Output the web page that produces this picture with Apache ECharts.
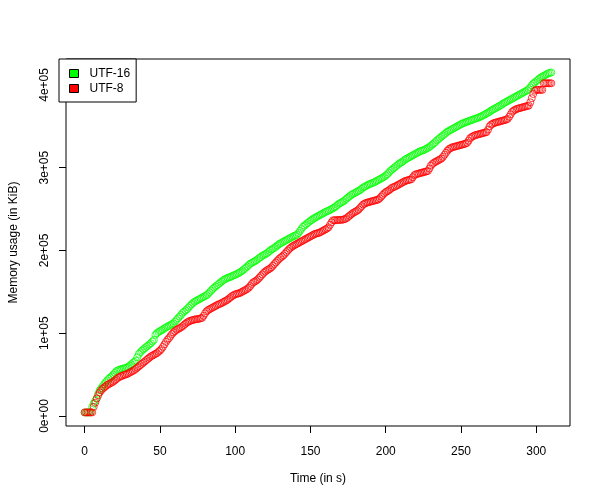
<!DOCTYPE html>
<html>
<head>
<meta charset="utf-8">
<title>Memory usage</title>
<script src="https://cdn.jsdelivr.net/npm/echarts@6/dist/echarts.min.js"></script>
<style>
    html, body { margin: 0; padding: 0; background: #fff; }
    #chart { width: 600px; height: 500px; }
</style>
</head>
<body>
<div id="chart"></div>
<script>
// memory in KiB, one reading per second (t = 0 .. 310)
var utf16 = [
    4300, 4300, 4300, 4400, 4500, 11000, 15000, 18500, 21500, 27000,
    31000, 33500, 36000, 38500, 41000, 43000, 45000, 46500, 48000, 50000,
    52000, 54000, 55000, 56000, 56500, 57000, 57500, 58000, 58500, 59500,
    61000, 62500, 64000, 65500, 67000, 71000, 75000, 77000, 79000, 80500,
    82000, 83500, 85000, 86500, 88000, 90000, 92000, 98000, 100000, 101500,
    102500, 103500, 104500, 106000, 107000, 108000, 109000, 110000, 111000, 112000,
    114000, 116000, 118000, 120000, 122000, 124500, 126000, 127500, 129000, 131000,
    133000, 135000, 136500, 138000, 139000, 140000, 141000, 142000, 143000, 144000,
    145000, 146000, 147500, 149500, 151500, 153500, 155000, 156500, 158000, 159500,
    161000, 162500, 164000, 165000, 166000, 167000, 167500, 168000, 169000, 170000,
    170500, 171500, 172500, 173500, 174500, 176000, 177500, 179000, 180500, 182500,
    184000, 185000, 186000, 187000, 188000, 189500, 191000, 192000, 193500, 194500,
    195500, 196500, 198000, 199500, 201000, 202000, 203000, 204500, 206000, 207500,
    208500, 209500, 210500, 211500, 212500, 213500, 214500, 215500, 216500, 217500,
    218000, 219000, 221000, 223500, 226000, 228500, 230000, 231500, 233000, 234500,
    236000, 237000, 238500, 239500, 240500, 241500, 242500, 243500, 244500, 245500,
    246500, 247500, 248000, 249000, 250000, 251000, 252000, 253500, 255000, 256500,
    257500, 258500, 259500, 261000, 262500, 264000, 265500, 267000, 268000, 269000,
    270000, 271000, 272000, 273000, 274500, 276000, 277000, 278000, 279000, 280000,
    280500, 281500, 282000, 283000, 284000, 285000, 286000, 287000, 288000, 289000,
    290500, 292000, 294000, 296000, 297500, 299000, 300500, 302000, 303500, 305000,
    306000, 307000, 308500, 310000, 311000, 312000, 313000, 314000, 315000, 316000,
    317000, 318000, 319000, 320000, 320500, 321000, 322000, 323000, 324000, 325000,
    326500, 328000, 329500, 331000, 333000, 334500, 336000, 337500, 339000, 340500,
    342000, 343500, 344500, 345500, 346500, 347500, 348500, 349500, 350500, 351500,
    352500, 353500, 354000, 355000, 355500, 356000, 357000, 357500, 358000, 359000,
    359500, 360000, 361000, 361500, 362500, 363500, 364500, 365500, 366500, 367500,
    369000, 370000, 371000, 372000, 373000, 374000, 375000, 376000, 377500, 378500,
    379500, 380500, 381500, 382500, 383500, 384500, 385500, 386500, 387500, 388500,
    389500, 390500, 391500, 392500, 393500, 395000, 397000, 399500, 401500, 403000,
    404500, 406000, 407500, 409000, 410000, 411000, 412000, 413000, 414000, 414500, 415000
];
var utf8 = [
    4300, 4300, 4300, 4300, 4300, 4300, 11000, 16000, 21000, 25000,
    28500, 31000, 33000, 34500, 36000, 37500, 38500, 39500, 40500, 41500,
    43000, 44500, 46000, 47000, 48000, 48500, 49500, 50000, 50500, 51500,
    52500, 53500, 54500, 55500, 57000, 58500, 60000, 61500, 63000, 64500,
    66000, 67500, 69000, 70500, 72000, 73000, 74000, 75000, 76000, 77500,
    79000, 81000, 83500, 86500, 89500, 92000, 94000, 96500, 99000, 101000,
    102500, 104000, 105000, 106000, 107000, 108500, 110000, 111500, 113000, 114000,
    115000, 115500, 116000, 116500, 117000, 117000, 117500, 118000, 118500, 121000,
    124000, 126500, 128000, 129000, 130000, 131000, 132000, 133000, 134000, 135000,
    135500, 136500, 137500, 138500, 139500, 140500, 142000, 143500, 145000, 146000,
    147000, 147500, 148000, 148500, 149500, 150500, 151500, 152500, 153500, 155000,
    157000, 159500, 161500, 162500, 163500, 165000, 167000, 169000, 171000, 173000,
    174500, 176000, 177000, 178000, 179500, 181500, 183500, 185500, 187500, 189500,
    191000, 192500, 194000, 196000, 198000, 200000, 202000, 203500, 205000, 206000,
    207000, 208000, 209000, 210000, 211000, 212000, 213000, 214000, 215000, 216000,
    217000, 218000, 219000, 220000, 220500, 221000, 221500, 222500, 223500, 224500,
    225500, 226500, 228000, 231000, 234000, 236500, 236500, 236500, 236800, 236800,
    237000, 237000, 237500, 238000, 239000, 240500, 242000, 243500, 245000, 246000,
    247000, 248000, 249500, 251500, 253500, 255500, 256500, 257500, 258000, 258500,
    259000, 259500, 260000, 260500, 261000, 261500, 263000, 265000, 267000, 269000,
    270500, 271500, 272500, 274000, 275500, 276500, 277000, 278000, 279000, 280000,
    281000, 282000, 283000, 284000, 284500, 285000, 285500, 286000, 288500, 291000,
    292000, 292500, 293000, 293500, 294000, 294500, 295000, 295500, 296000, 299000,
    302500, 304500, 306000, 307000, 308000, 309000, 310000, 311000, 313000, 315500,
    318000, 320500, 322500, 323500, 324500, 325000, 325500, 326000, 326500, 327000,
    327500, 328000, 328500, 329000, 330000, 332500, 335500, 337000, 338000, 339000,
    339500, 340000, 340500, 341000, 341500, 342000, 342500, 343000, 346000, 350000,
    352000, 353000, 354000, 354500, 355000, 355500, 356000, 356500, 357000, 357500,
    358000, 359000, 361500, 364500, 367500, 369000, 370000, 371000, 371500, 372000,
    372500, 373000, 373500, 374000, 374500, 375000, 379000, 384000, 389000, 393000,
    394000, 394000, 394000, 394000, 394000, 402000, 402000, 402000, 402000, 402000, 402000
];
var seriesNames = ['UTF-16', 'UTF-8'];
var seriesColors = ['#00ff00', '#ff0000'];
var xTicks = [0, 50, 100, 150, 200, 250, 300];
var yTicks = [0, 100000, 200000, 300000, 400000];
var yTickLabels = ['0e+00', '1e+05', '2e+05', '3e+05', '4e+05'];

(function () {
    var font = 'Liberation Sans, Arial, sans-serif';

    // pair each reading with its second
    function toPoints(arr) {
        return arr.map(function (v, i) { return [i, v]; });
    }

    var chart = echarts.init(document.getElementById('chart'));
    var option = {
        animation: false,
        backgroundColor: '#fff',
        textStyle: { fontFamily: font, color: '#000' },
        grid: {
            left: 59, top: 59, right: 30, bottom: 74,
            show: true, borderColor: '#000', borderWidth: 1
        },
        legend: {
            orient: 'vertical',
            left: 59, top: 59,
            padding: [7, 6, 6, 10],
            itemGap: 0,
            itemWidth: 9, itemHeight: 8,
            backgroundColor: '#fff',
            borderColor: '#000', borderWidth: 1,
            textStyle: { fontFamily: font, fontSize: 12, color: '#000', lineHeight: 15, padding: [0, 0, 0, 6] },
            data: seriesNames.map(function (n, i) {
                return {
                    name: n, icon: 'rect',
                    itemStyle: { color: seriesColors[i], borderColor: '#000', borderWidth: 1, opacity: 1 }
                };
            })
        },
        xAxis: {
            type: 'value',
            min: -12.4, max: 322.4,
            name: 'Time (in s)',
            nameLocation: 'middle', nameGap: 47,
            nameTextStyle: { fontFamily: font, fontSize: 12, color: '#000' },
            axisLine: { show: false, onZero: false },
            splitLine: { show: false },
            axisTick: { show: true, length: 7, customValues: xTicks, lineStyle: { color: '#000' } },
            axisLabel: { customValues: xTicks, margin: 20, fontSize: 12, color: '#000', fontFamily: font }
        },
        yAxis: {
            type: 'value',
            min: -12100, max: 431300,
            name: 'Memory usage (in KiB)',
            nameLocation: 'middle', nameGap: 46,
            nameTextStyle: { fontFamily: font, fontSize: 12, color: '#000' },
            axisLine: { show: false, onZero: false },
            splitLine: { show: false },
            axisTick: { show: true, length: 7, customValues: yTicks, lineStyle: { color: '#000' } },
            axisLabel: {
                customValues: yTicks, rotate: 90, margin: 15,
                fontSize: 12, color: '#000', fontFamily: font,
                formatter: function (v) { return yTickLabels[yTicks.indexOf(v)]; }
            }
        },
        series: [utf16, utf8].map(function (arr, i) {
            return {
                name: seriesNames[i],
                type: 'scatter',
                symbol: 'circle',
                symbolSize: 7,
                itemStyle: { color: 'rgba(255,255,255,0)', borderColor: seriesColors[i], borderWidth: 1, opacity: 0.75 },
                data: toPoints(arr)
            };
        })
    };
    chart.setOption(option);
}());
</script>
</body>
</html>
